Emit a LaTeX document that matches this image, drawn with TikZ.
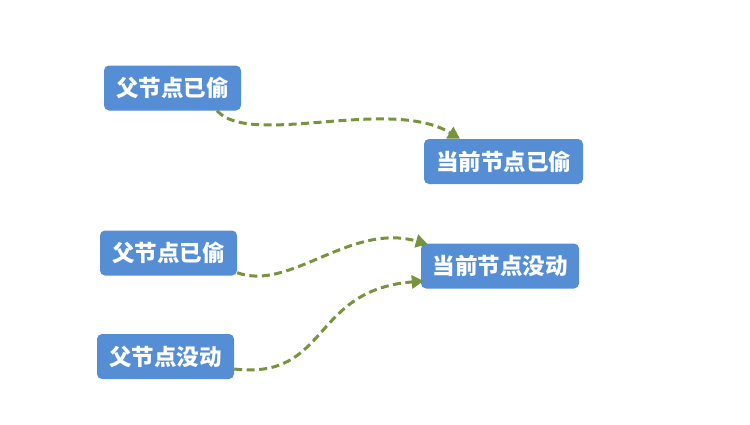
\documentclass[tikz,border=0pt]{standalone}
\usepackage{fontspec}
\newfontfamily\cjk{Noto Sans CJK SC}
\usetikzlibrary{arrows.meta}
\definecolor{boxblue}{HTML}{558ED5}
\definecolor{olive}{HTML}{77933C}
\tikzset{
  box/.style={fill=boxblue, rounded corners=5pt, text=white, font=\cjk\bfseries\fontsize{22.5}{26}\selectfont, inner sep=0pt, minimum height=45pt, align=center},
  link/.style={olive, line width=3pt, dash pattern=on 8pt off 4.5pt, -{Triangle[length=12pt,width=13pt]}}
}
\begin{document}
\begin{tikzpicture}[x=1pt,y=-1pt]
\useasboundingbox (0,0) rectangle (750,424);
\node[box, minimum width=137pt] (b1) at (172.5,88) {父节点已偷};
\node[box, minimum width=159pt] (b2) at (503.5,161.5) {当前节点已偷};
\node[box, minimum width=137pt] (b3) at (168.5,253) {父节点已偷};
\node[box, minimum width=158pt] (b4) at (500,266) {当前节点没动};
\node[box, minimum width=137pt] (b5) at (165.5,356.5) {父节点没动};
\draw[link] ([xshift=44.5pt]b1.south) .. controls (250,148) and (390,96) .. ([xshift=-43.5pt]b2.north);
\draw[link] ([yshift=3pt]b3.south east) .. controls (290,292) and (350,222) .. ([xshift=7pt,yshift=-1pt]b4.north west);
\draw[link] ([yshift=-12.5pt]b5.east) .. controls (330,380) and (310,290) .. ([xshift=3pt,yshift=-15pt]b4.west);
\end{tikzpicture}
\end{document}
